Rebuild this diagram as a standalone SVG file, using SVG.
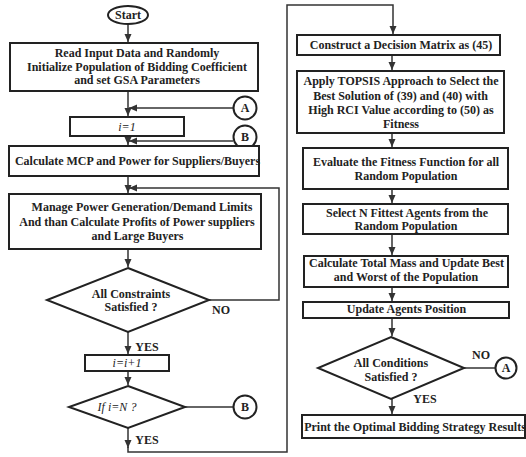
<svg xmlns="http://www.w3.org/2000/svg" width="526" height="457" viewBox="0 0 526 457">
<style>
.box{fill:#fff;stroke:#222;stroke-width:2}
.t{font-family:"Liberation Serif","Times New Roman",serif;font-weight:bold;font-size:12px;fill:#222;text-anchor:middle}
.ti{font-family:"Liberation Serif","Times New Roman",serif;font-style:italic;font-size:12px;fill:#222;text-anchor:middle}
.c{fill:none;stroke:#333;stroke-width:1.5}
</style>
<defs>
<marker id="ah" markerUnits="userSpaceOnUse" markerWidth="8" markerHeight="8" viewBox="0 0 8 8" refX="8" refY="4" orient="auto">
<path d="M0,0.5 L8,4 L0,7.5 Z" fill="#333"/>
</marker>
</defs>
<rect width="526" height="457" fill="#fff"/>
<g id="connectors">
<line class="c" x1="128" y1="24" x2="128" y2="42" marker-end="url(#ah)"/>
<line class="c" x1="128" y1="91" x2="128" y2="116" marker-end="url(#ah)"/>
<line class="c" x1="233" y1="108" x2="129" y2="108" marker-end="url(#ah)"/>
<line class="c" x1="128" y1="136" x2="128" y2="145" marker-end="url(#ah)"/>
<line class="c" x1="233" y1="141" x2="129" y2="141" marker-end="url(#ah)"/>
<line class="c" x1="128" y1="176" x2="128" y2="193" marker-end="url(#ah)"/>
<polyline class="c" points="209,300 279,300 279,188 129,188" marker-end="url(#ah)"/>
<line class="c" x1="128" y1="249" x2="128" y2="267" marker-end="url(#ah)"/>
<line class="c" x1="128" y1="332" x2="128" y2="354" marker-end="url(#ah)"/>
<line class="c" x1="128" y1="371" x2="128" y2="385" marker-end="url(#ah)"/>
<line class="c" x1="185" y1="407" x2="233" y2="407"/>
<line class="c" x1="128" y1="428" x2="128" y2="448" marker-end="url(#ah)"/>
<polyline class="c" points="128,447 128,452 287,452 287,5 393,5 393,34" marker-end="url(#ah)"/>
<line class="c" x1="392" y1="55" x2="392" y2="70" marker-end="url(#ah)"/>
<line class="c" x1="392" y1="133" x2="392" y2="147" marker-end="url(#ah)"/>
<line class="c" x1="392" y1="189" x2="392" y2="203" marker-end="url(#ah)"/>
<line class="c" x1="392" y1="234" x2="392" y2="255" marker-end="url(#ah)"/>
<line class="c" x1="392" y1="287" x2="392" y2="301" marker-end="url(#ah)"/>
<line class="c" x1="392" y1="318" x2="392" y2="336" marker-end="url(#ah)"/>
<line class="c" x1="464" y1="368" x2="495" y2="368"/>
<line class="c" x1="392" y1="399" x2="392" y2="414" marker-end="url(#ah)"/>
</g>
<g id="start">
<ellipse cx="128" cy="15" rx="20" ry="9" fill="#fff" stroke="#222" stroke-width="2"/>
<text class="t" x="128" y="19">Start</text>
</g>
<g id="init">
<rect class="box" x="10" y="43" width="248" height="48"/>
<text class="t" x="137" y="57">Read Input Data and Randomly</text>
<text class="t" x="137" y="70.5">Initialize Population of Bidding Coefficient</text>
<text class="t" x="137" y="84">and set GSA Parameters</text>
</g>
<g id="connA1">
<circle cx="245" cy="108" r="11.5" fill="#fff" stroke="#222" stroke-width="2"/>
<text class="t" x="245" y="112">A</text>
</g>
<g id="i1">
<rect class="box" x="70" y="117" width="114" height="19"/>
<text class="ti" x="127" y="131">i=1</text>
</g>
<g id="connB1">
<circle cx="245" cy="137" r="11.5" fill="#fff" stroke="#222" stroke-width="2"/>
<text class="t" x="245" y="141">B</text>
</g>
<g id="mcp">
<rect class="box" x="9" y="146" width="250" height="30"/>
<text class="t" x="137.5" y="165">Calculate MCP and Power for Suppliers/Buyers</text>
</g>
<g id="manage">
<rect class="box" x="9" y="194" width="252" height="55"/>
<text class="t" x="142" y="211">Manage Power Generation/Demand Limits</text>
<text class="t" x="137" y="226">And than Calculate Profits of Power suppliers</text>
<text class="t" x="137.5" y="240">and Large Buyers</text>
</g>
<g id="constraints">
<polygon points="128,268 209,300 128,332 47,300" fill="#fff" stroke="#222" stroke-width="2"/>
<text class="t" x="131" y="298">All Constraints</text>
<text class="t" x="131" y="311">Satisfied ?</text>
<text class="t" x="221" y="314">NO</text>
<text class="t" x="147" y="351">YES</text>
</g>
<g id="inc">
<rect class="box" x="85" y="355" width="84" height="16"/>
<text class="ti" x="127" y="367">i=i+1</text>
</g>
<g id="ifN">
<polygon points="128,386 185,407 128,428 69,407" fill="#fff" stroke="#222" stroke-width="2"/>
<text class="ti" x="117" y="411">If i=N ?</text>
<text class="t" x="147" y="444">YES</text>
</g>
<g id="connB2">
<circle cx="245" cy="407" r="11.5" fill="#fff" stroke="#222" stroke-width="2"/>
<text class="t" x="245" y="411">B</text>
</g>
<g id="decision">
<rect class="box" x="297" y="35" width="203" height="20"/>
<text class="t" x="401" y="49">Construct a Decision Matrix as (45)</text>
</g>
<g id="topsis">
<rect class="box" x="297" y="71" width="207" height="62"/>
<text class="t" x="401" y="85">Apply TOPSIS Approach to Select the</text>
<text class="t" x="400.5" y="100">Best Solution of (39) and  (40) with</text>
<text class="t" x="401" y="114">High RCI Value according to (50) as</text>
<text class="t" x="401" y="128">Fitness</text>
</g>
<g id="evaluate">
<rect class="box" x="303" y="148" width="205" height="41"/>
<text class="t" x="406" y="166">Evaluate the Fitness Function for all</text>
<text class="t" x="406" y="180">Random Population</text>
</g>
<g id="select">
<rect class="box" x="303" y="204" width="205" height="30"/>
<text class="t" x="407" y="217">Select N Fittest Agents from the</text>
<text class="t" x="406" y="230">Random Population</text>
</g>
<g id="mass">
<rect class="box" x="304" y="256" width="204" height="31"/>
<text class="t" x="406.5" y="267">Calculate Total Mass and Update Best</text>
<text class="t" x="406" y="281">and Worst of the Population</text>
</g>
<g id="update">
<rect class="box" x="303" y="302" width="206" height="16"/>
<text class="t" x="406.5" y="313">Update Agents Position</text>
</g>
<g id="conditions">
<polygon points="391,337 464,368 391,399 318,368" fill="#fff" stroke="#222" stroke-width="2"/>
<text class="t" x="391" y="367">All Conditions</text>
<text class="t" x="391" y="381">Satisfied ?</text>
<text class="t" x="481" y="359">NO</text>
<text class="t" x="425" y="403">YES</text>
</g>
<g id="connA2">
<circle cx="506" cy="368" r="10.5" fill="#fff" stroke="#222" stroke-width="2"/>
<text class="t" x="506" y="372">A</text>
</g>
<g id="print">
<rect class="box" x="302" y="415" width="223" height="23"/>
<text class="t" x="415" y="431">Print the Optimal Bidding Strategy Results</text>
</g>
</svg>
